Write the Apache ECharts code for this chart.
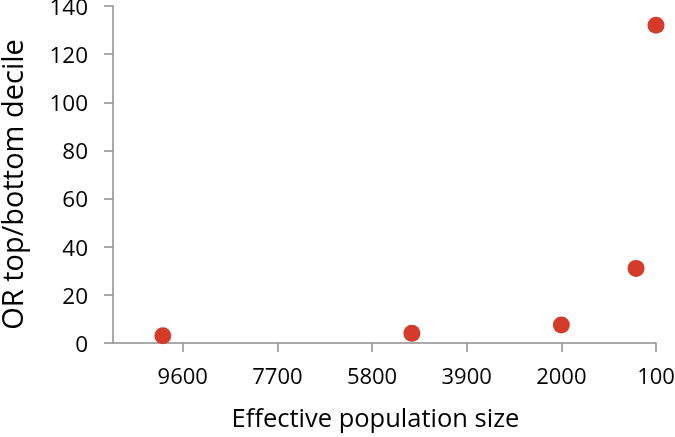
<!DOCTYPE html>
<html>
<head>
<meta charset="utf-8">
<script src="https://cdn.jsdelivr.net/npm/echarts@6/dist/echarts.min.js"></script>
<style>html,body{margin:0;padding:0;background:#fff;}#c{width:675px;height:437px;}</style>
</head>
<body>
<div id="c"></div>
<script>
const popSize = [10000, 5000, 2000, 500, 100];
const oddsRatio = [3, 4, 7.5, 31, 132];
const xTicks = [100, 2000, 3900, 5800, 7700, 9600];
const yTicks = [0, 20, 40, 60, 80, 100, 120, 140];

const chart = echarts.init(document.getElementById('c'), null, {renderer: 'canvas'});
const font = 'Open Sans';
const axisGray = '#8e8e8e';
chart.setOption({
  animation: false,
  grid: {left: 113, right: 19, top: 6, bottom: 94, outerBoundsMode: 'none', containLabel: false},
  xAxis: {
    type: 'value', inverse: true, min: 100, max: 11000, interval: 1900,
    name: 'Effective population size', nameLocation: 'middle', nameGap: 64,
    nameTextStyle: {fontFamily: font, fontSize: 25.5, color: '#000', padding: [0, 18, 0, 0]},
    axisLine: {show: true, lineStyle: {color: axisGray, width: 1.5}},
    axisTick: {show: true, length: 9, customValues: xTicks, lineStyle: {color: axisGray, width: 1.5}},
    axisLabel: {customValues: xTicks, formatter: v => String(v), fontFamily: font, fontSize: 22, color: '#000', margin: 24},
    splitLine: {show: false}
  },
  yAxis: {
    type: 'value', min: 0, max: 140, interval: 20,
    name: 'OR top/bottom decile', nameLocation: 'middle', nameGap: 84,
    nameTextStyle: {fontFamily: font, fontSize: 29, color: '#000', padding: [0, 20, 0, 0]},
    axisLine: {show: true, lineStyle: {color: axisGray, width: 1.5}},
    axisTick: {show: true, length: 9, lineStyle: {color: axisGray, width: 1.5}},
    axisLabel: {formatter: v => String(v), fontFamily: font, fontSize: 22.5, color: '#000', margin: 25,
      verticalAlign: 'top', lineHeight: 5},
    splitLine: {show: false}
  },
  series: [{
    type: 'scatter',
    data: popSize.map((v, i) => [v, oddsRatio[i]]),
    symbolSize: 17,
    itemStyle: {color: '#d43b28', opacity: 1}
  }]
});
</script>
</body>
</html>
